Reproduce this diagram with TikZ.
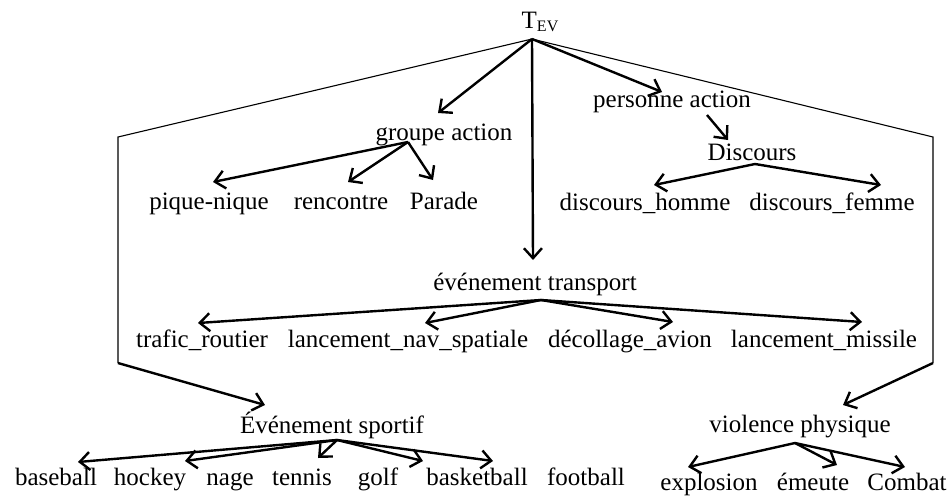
\documentclass[tikz,border=0pt]{standalone}
\usepackage{fontspec}
\setmainfont{Liberation Serif}
\usetikzlibrary{arrows.meta}
\begin{document}
\begin{tikzpicture}[x=1pt,y=-1pt,
  lbl/.style={anchor=base,inner sep=0pt,font=\fontsize{25}{30}\selectfont},
  arr/.style={line width=2.4pt,-{Straight Barb[length=10pt,width=18pt]}},
  thin/.style={line width=1.1pt}]
\useasboundingbox (0,0) rectangle (950,496);
% nodes
\node[lbl] (tev) at (540,28) {T\raisebox{-3pt}{\fontsize{16}{16}\selectfont EV}};
\node[lbl] (ga) at (444,140) {groupe action};
\node[lbl] (pa) at (672,107) {personne action};
\node[lbl] (disc) at (752,160) {Discours};
\node[lbl] (pn) at (209,209) {pique-nique};
\node[lbl] (renc) at (341,209) {rencontre};
\node[lbl] (par) at (444,209) {Parade};
\node[lbl] (dh) at (645,210) {discours\_homme};
\node[lbl] (df) at (832,210) {discours\_femme};
\node[lbl] (et) at (535,290) {événement transport};
\node[lbl] (tr) at (202,347) {trafic\_routier};
\node[lbl] (lns) at (408,347) {lancement\_nav\_spatiale};
\node[lbl] (da) at (630,347) {décollage\_avion};
\node[lbl] (lm) at (824,347) {lancement\_missile};
\node[lbl] (es) at (332,433) {Événement sportif};
\node[lbl] (bsb) at (56,485) {baseball};
\node[lbl] (hoc) at (150,485) {hockey};
\node[lbl] (nag) at (230,485) {nage};
\node[lbl] (ten) at (302,485) {tennis};
\node[lbl] (gol) at (378,485) {golf};
\node[lbl] (bkb) at (477,485) {basketball};
\node[lbl] (fb) at (586,485) {football};
\node[lbl] (vp) at (800,432) {violence physique};
\node[lbl] (exp) at (709,490) {explosion};
\node[lbl] (eme) at (813,490) {émeute};
\node[lbl] (com) at (907,490) {Combat};
% branch points and tips
\coordinate (apex) at (532,39);
\coordinate (lt) at (118,137);
\coordinate (lb) at (118,363);
\coordinate (rt) at (933,137);
\coordinate (rb) at (933,363);
\coordinate (ga-t) at (438,113);
\coordinate (pa-t) at (662,92);
\coordinate (et-t) at (533,260);
\coordinate (es-t) at (265,405);
\coordinate (vp-t) at (843,405);
\coordinate (ga-b) at (408,142);
\coordinate (pn-t) at (213,182);
\coordinate (renc-t) at (348,182);
\coordinate (par-t) at (433,180);
\coordinate (pa-b) at (707,115);
\coordinate (disc-t) at (728,140);
\coordinate (disc-b) at (755,164);
\coordinate (dh-t) at (654,185);
\coordinate (df-t) at (881,185);
\coordinate (et-b) at (541,300);
\coordinate (tr-t) at (198,323);
\coordinate (lns-t) at (425,323);
\coordinate (da-t) at (673,322);
\coordinate (lm-t) at (862,322);
\coordinate (es-b) at (337,440);
\coordinate (bsb-t) at (78,462);
\coordinate (hoc-t) at (185,461);
\coordinate (ten-t) at (318,458);
\coordinate (gol-t) at (423,461);
\coordinate (bkb-t) at (493,461);
\coordinate (vp-b) at (795,443);
\coordinate (exp-t) at (688,467);
\coordinate (eme-t) at (837,465);
\coordinate (com-t) at (905,467);
% thin frame lines
\draw[thin] (lb) -- (lt) -- (apex) -- (rt) -- (rb);
% arrows
\draw[arr] (lb) -- (es-t);
\draw[arr] (rb) -- (vp-t);
\draw[arr] (apex) -- (ga-t);
\draw[arr] (apex) -- (pa-t);
\draw[arr] (apex) -- (et-t);
\foreach \t in {pn-t,renc-t,par-t} \draw[arr] (ga-b) -- (\t);
\draw[arr] (pa-b) -- (disc-t);
\foreach \t in {dh-t,df-t} \draw[arr] (disc-b) -- (\t);
\foreach \t in {tr-t,lns-t,da-t,lm-t} \draw[arr] (et-b) -- (\t);
\foreach \t in {bsb-t,hoc-t,ten-t,gol-t,bkb-t} \draw[arr] (es-b) -- (\t);
\foreach \t in {exp-t,eme-t,com-t} \draw[arr] (vp-b) -- (\t);
\end{tikzpicture}
\end{document}
